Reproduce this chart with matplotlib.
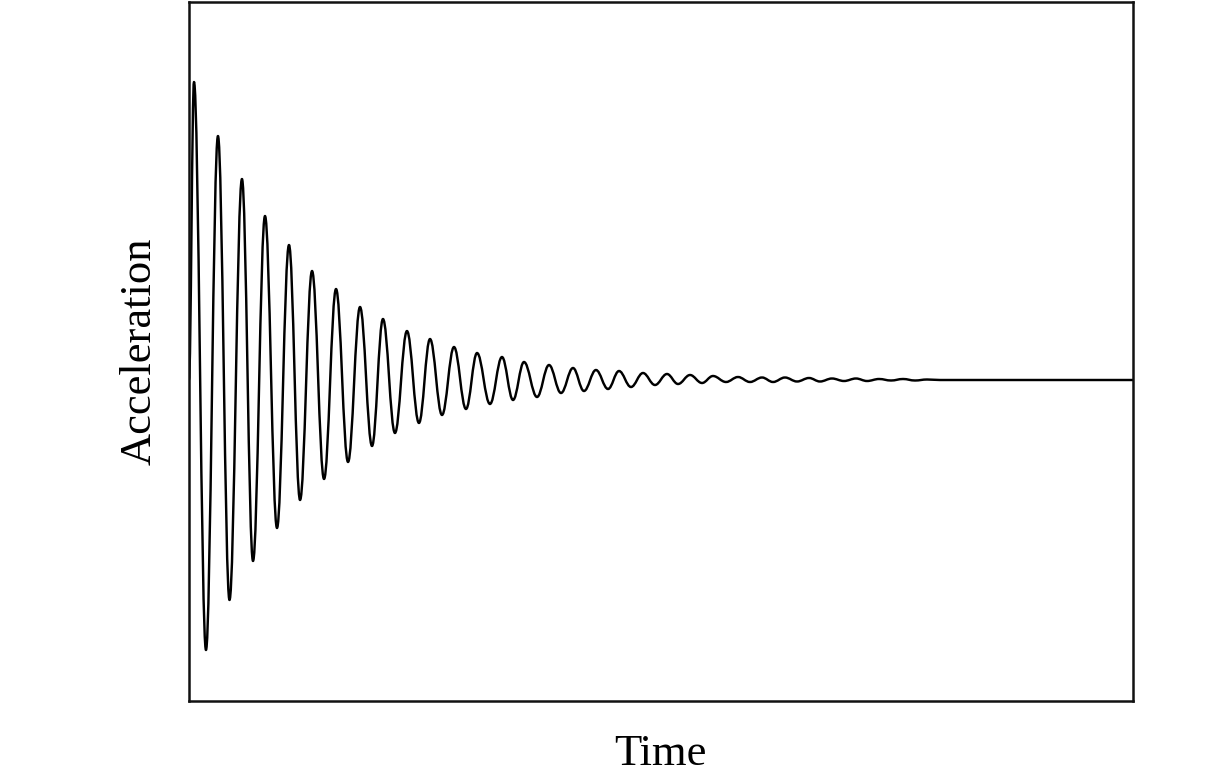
import matplotlib
matplotlib.use("Agg")
import matplotlib.pyplot as plt
from matplotlib.path import Path
from matplotlib.patches import PathPatch

# Extrema of the damped acceleration trace (time, acceleration)
time_ext = [0.005, 0.058, 0.185, 0.312, 0.434, 0.566, 0.683, 0.810, 0.937, 1.064,
            1.181, 1.308, 1.435, 1.562, 1.689, 1.816, 1.943, 2.059, 2.186, 2.313,
            2.440, 2.557, 2.684, 2.811, 2.938, 3.055, 3.192, 3.319, 3.436, 3.552,
            3.690, 3.817, 3.944, 4.071, 4.187, 4.314, 4.442, 4.558, 4.685, 4.812,
            4.939, 5.066, 5.183, 5.310, 5.437, 5.553, 5.691, 5.818, 5.945, 6.072,
            6.189, 6.315, 6.443, 6.570, 6.686, 6.813, 6.940, 7.067, 7.184, 7.311,
            7.438, 7.565, 7.692, 7.819, 7.957]
accel_ext = [0.0, 2.98, -2.70, 2.44, -2.20, 2.01, -1.81, 1.64, -1.48, 1.35,
             -1.20, 1.09, -0.99, 0.91, -0.82, 0.73, -0.66, 0.61, -0.53, 0.49,
             -0.43, 0.41, -0.35, 0.33, -0.29, 0.27, -0.24, 0.23, -0.20, 0.18,
             -0.17, 0.15, -0.13, 0.12, -0.11, 0.10, -0.09, 0.09, -0.07, 0.07,
             -0.05, 0.06, -0.04, 0.05, -0.03, 0.04, -0.02, 0.03, -0.02, 0.025,
             -0.02, 0.025, -0.015, 0.02, -0.015, 0.015, -0.01, 0.015, -0.01, 0.01,
             -0.005, 0.01, -0.005, 0.005, 0.0]
time_end = 10.0
accel_end = 0.0

x_label = "Time"
y_label = "Acceleration"

fig = plt.figure(figsize=(12.28, 7.8), dpi=100)
ax = fig.add_axes([188.5 / 1228, 1 - 701 / 780, (1133 - 188.5) / 1228, (701 - 1.5) / 780])

# Smooth curve through the extrema using the library's cubic Bezier path segments
verts = [(time_ext[0], accel_ext[0])]
codes = [Path.MOVETO]
k = 0.38
for i in range(len(time_ext) - 1):
    x0, y0 = time_ext[i], accel_ext[i]
    x1, y1 = time_ext[i + 1], accel_ext[i + 1]
    dx = x1 - x0
    verts += [(x0 + k * dx, y0), (x1 - k * dx, y1), (x1, y1)]
    codes += [Path.CURVE4] * 3
verts.append((time_end, accel_end))
codes.append(Path.LINETO)

patch = PathPatch(Path(verts, codes), fill=False, edgecolor="black", lw=1.75,
                  transform=ax.transData, capstyle="butt", joinstyle="round")
ax.add_patch(patch)

ax.set_xlim(0, 10)
ax.set_ylim(-3.21, 3.785)
ax.set_xticks([])
ax.set_yticks([])
for sp in ax.spines.values():
    sp.set_linewidth(1.8)
    sp.set_color("#111111")

font = dict(family="Liberation Serif", size=32)
ax.set_xlabel(x_label, fontdict=font, labelpad=24)
ax.set_ylabel(y_label, fontdict=font, labelpad=21)

fig.savefig("out.png", dpi=100)
